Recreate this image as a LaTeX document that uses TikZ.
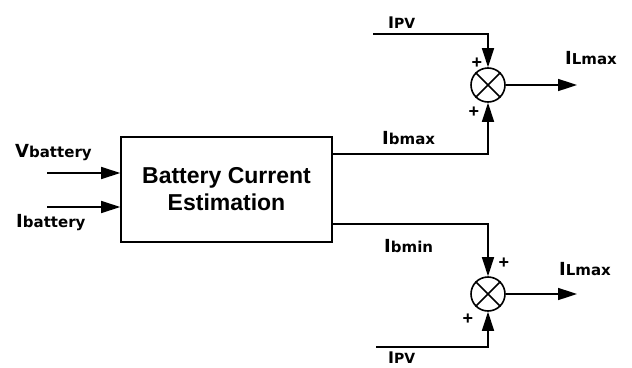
\documentclass[tikz,border=0pt]{standalone}
\usepackage{fontspec}
\setmainfont{Liberation Sans}
\newfontfamily\lblfont{DejaVu Sans}
\usetikzlibrary{arrows.meta}
\newcommand{\mylbl}[4]{{\lblfont\bfseries\fontsize{#3}{#3}\selectfont #1\fontsize{#4}{#4}\selectfont #2}}
\tikzset{
  wire/.style={line width=1.6pt, line join=miter},
  arr/.style={wire, -{Triangle[length=19pt,width=12pt]}},
  lbl/.style={anchor=base west, inner sep=0pt},
  summer/.style={circle, draw, line width=1.6pt, minimum size=34pt, inner sep=0pt},
  plus/.style={inner sep=0pt, font=\bfseries\fontsize{18}{18}\selectfont}
}
\begin{document}
\begin{tikzpicture}[x=1pt,y=-1pt]
\useasboundingbox (0,0) rectangle (632,367);
% block
\node[draw, line width=1.6pt, minimum width=211pt, minimum height=105pt, inner sep=0pt,
      align=center, font=\bfseries\fontsize{23}{27}\selectfont] (box) at (226.5,189.5)
      {Battery Current\\Estimation};
% inputs
\coordinate (vin) at (47,173);
\coordinate (iin) at (47,207);
\draw[arr] (vin) -- (vin -| box.west);
\draw[arr] (iin) -- (iin -| box.west);
\node[lbl] (lv) at (15,157) {\mylbl{V}{battery}{18}{15}};
\node[lbl] (li) at (16,227) {\mylbl{I}{battery}{18}{15}};
% summers
\node[summer] (s1) at (488,85) {};
\node[summer] (s2) at (488,294) {};
\foreach \s in {s1,s2}{
  \draw[line width=1.6pt] (\s.45) -- (\s.225) (\s.135) -- (\s.315);
}
% top summer
\coordinate (p1) at (373,34);
\coordinate (o1) at (577,85);
\draw[arr] (p1) -| (s1.north);
\draw[arr] (box.east |- 0,154) -| (s1.south);
\draw[arr] (s1.east) -- (o1);
\node[lbl] (lp1) at (388,28) {\mylbl{I}{PV}{16}{14}};
\node[lbl] (lb1) at (382,144) {\mylbl{I}{bmax}{18}{15}};
\node[lbl] (lo1) at (565,64) {\mylbl{I}{Lmax}{18}{15}};
\node[plus] (pa) at (477,63) {+};
\node[plus] (pb) at (474,112) {+};
% bottom summer
\coordinate (p2) at (376,347);
\coordinate (o2) at (577,294);
\draw[arr] (box.east |- 0,224) -| (s2.north);
\draw[arr] (p2) -| (s2.south);
\draw[arr] (s2.east) -- (o2);
\node[lbl] (lb2) at (384,252) {\mylbl{I}{bmin}{18}{15}};
\node[lbl] (lo2) at (559,275) {\mylbl{I}{Lmax}{18}{15}};
\node[lbl] (lp2) at (388,363) {\mylbl{I}{PV}{16}{14}};
\node[plus] (pc) at (504,263) {+};
\node[plus] (pd) at (468,319) {+};
\end{tikzpicture}
\end{document}
